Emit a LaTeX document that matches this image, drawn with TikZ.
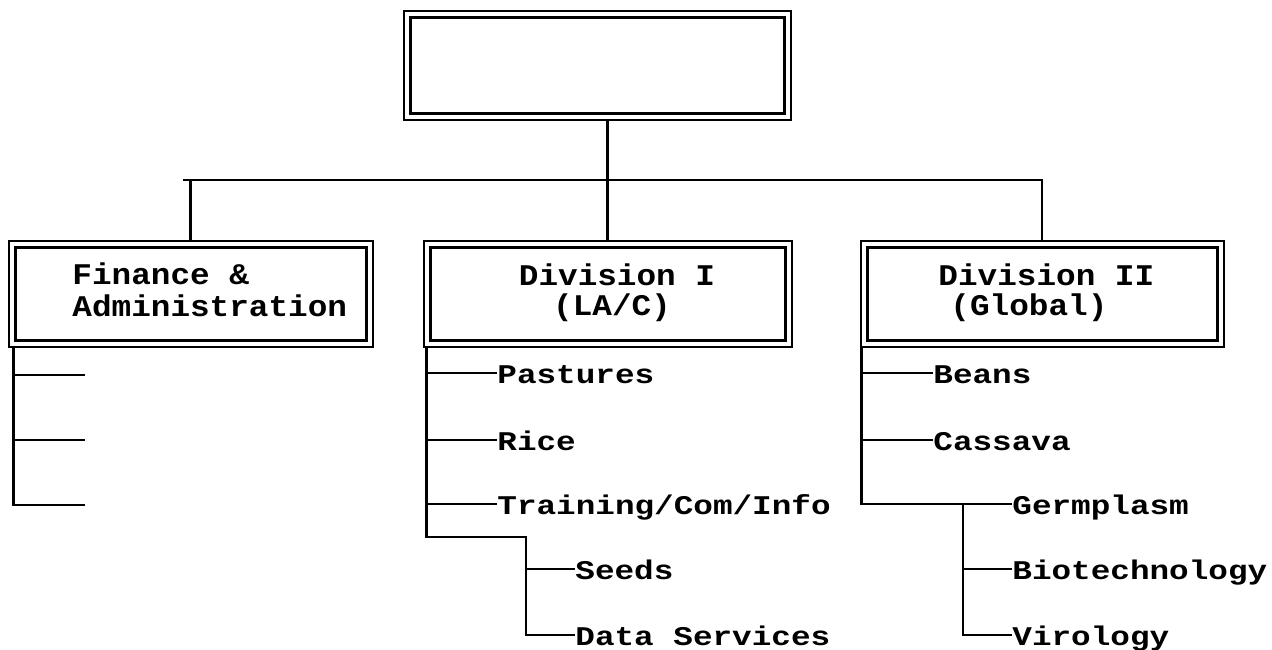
\documentclass[tikz,border=0pt]{standalone}
\usepackage{fontspec}
\newfontfamily\courbox{Liberation Mono}[FakeStretch=1.09]
\newfontfamily\courlist{Liberation Mono}[FakeStretch=1.21]
\begin{document}
\begin{tikzpicture}[x=0.5pt,y=-0.5pt,
  inbox/.style={draw, line width=1.5pt, minimum width=#1, minimum height=46.5pt, inner sep=0pt},
  outerln/.style={line width=1pt},
  conn/.style={line width=1.2pt},
  txt/.style={font=\courbox\bfseries\fontsize{15}{15}\selectfont, inner sep=0pt, text height=8pt, text depth=1pt},
  item/.style={font=\courlist\bfseries\fontsize{13.5}{15}\selectfont, inner sep=0pt, anchor=west, text height=11pt, text depth=1pt}
]
\useasboundingbox (0,0) rectangle (1272,649);

% boxes
\node[inbox=187pt, minimum height=48pt] (top) at (597,65) {};
\node[inbox=175.5pt] (fin) at (190.5,293.5) {};
\node[inbox=177.5pt] (div1) at (607.5,293.5) {};
\node[inbox=175pt] (div2) at (1042,293.5) {};
\foreach \b in {top,fin,div1,div2}{
  \draw[outerln] ([shift={(-2.5pt,2.5pt)}]\b.north west) rectangle ([shift={(2.5pt,-2.5pt)}]\b.south east);
}

% box texts
\node[txt, anchor=base west] (finA) at (72,284) {Finance \&};
\node[txt, anchor=base west] (finB) at (72,316) {Administration};
\node[txt, anchor=base] (d1a) at (617,285) {Division I};
\node[txt, anchor=base] (d1b) at (612,315) {(LA/C)};
\node[txt, anchor=base west] (d2a) at (938,285) {Division II};
\node[txt, anchor=base west] (d2b) at (950,315) {(Global)};

% top-level connectors
\coordinate (barL) at (183,180);
\draw[conn] (barL) -- (barL -| div2.north) -- ([yshift=2.5pt]div2.north);
\draw[conn] (barL -| fin.north) -- ([yshift=2.5pt]fin.north);
\draw[conn] ([yshift=-2.5pt]top.south -| div1.north) -- ([yshift=2.5pt]div1.north);

% Finance list
\coordinate (fs) at ([yshift=-2.5pt]fin.south west);
\coordinate (f1) at (85,375);
\coordinate (f2) at (85,440);
\coordinate (f3) at (85,505);
\draw[conn] (fs) -- (fs |- f3) -- (f3);
\draw[conn] (fs |- f1) -- (f1);
\draw[conn] (fs |- f2) -- (f2);

% Division I list
\node[item] (pas) at (497,373) {Pastures};
\node[item] (rice) at (497,440) {Rice};
\node[item] (train) at (497,504) {Training/Com/Info};
\node[item] (seeds) at (575,569) {Seeds};
\node[item] (data) at (575,635) {Data Services};
\coordinate (d1s) at ([xshift=-1pt,yshift=-2.5pt]div1.south west);
\coordinate (d1c) at (526,537);
\draw[conn] (d1s) -- (d1s |- d1c) -- (d1c) -- (d1c |- data.west) -- (data.west);
\draw[conn] (d1s |- pas.west) -- (pas.west);
\draw[conn] (d1s |- rice.west) -- (rice.west);
\draw[conn] (d1s |- train.west) -- (train.west);
\draw[conn] (d1c |- seeds.west) -- (seeds.west);

% Division II list
\node[item] (beans) at (933,373) {Beans};
\node[item] (cass) at (933,440) {Cassava};
\node[item] (germ) at (1012,504) {Germplasm};
\node[item] (bio) at (1012,569) {Biotechnology};
\node[item] (viro) at (1012,635) {Virology};
\coordinate (d2s) at ([xshift=-2pt,yshift=-2.5pt]div2.south west);
\coordinate (d2c) at (963,504);
\draw[conn] (d2s) -- (d2s |- germ.west) -- (germ.west);
\draw[conn] (d2s |- beans.west) -- (beans.west);
\draw[conn] (d2s |- cass.west) -- (cass.west);
\draw[conn] (d2c) -- (d2c |- viro.west) -- (viro.west);
\draw[conn] (d2c |- bio.west) -- (bio.west);
\end{tikzpicture}
\end{document}
